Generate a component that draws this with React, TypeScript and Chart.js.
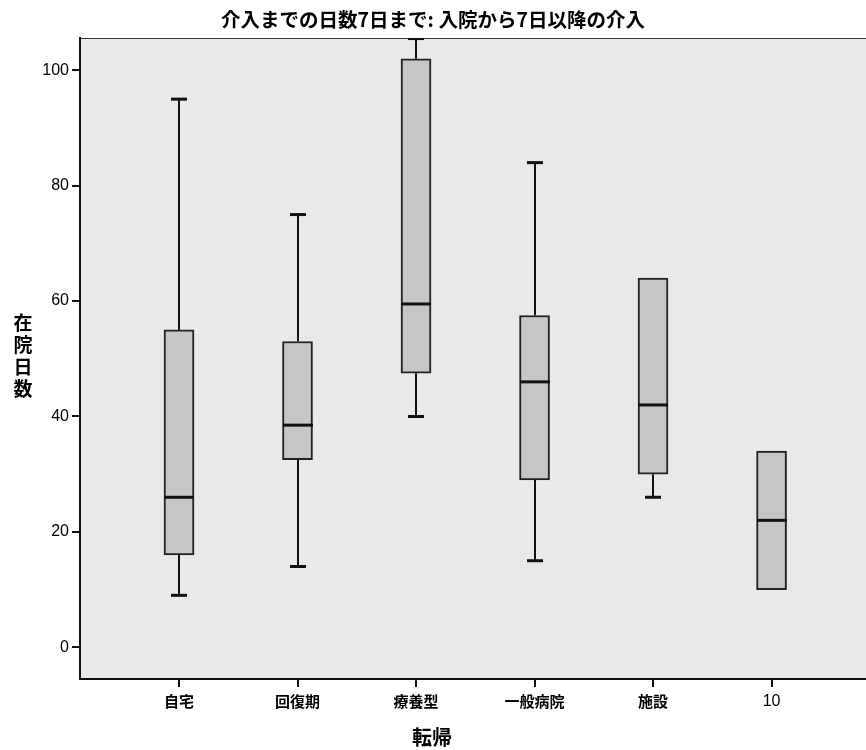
import React, { useEffect, useRef } from "react";
import { Chart, registerables } from "chart.js";

Chart.register(...registerables);

const categories = ["自宅", "回復期", "療養型", "一般病院", "施設", "10"];
const whiskerLow = [9, 14, 40, 15, 26, 10];
const q1 = [16, 32.5, 47.5, 29, 30, 10];
const median = [26, 38.5, 59.5, 46, 42, 22];
const q3 = [55, 53, 102, 57.5, 64, 34];
const whiskerHigh = [95, 75, 105.5, 84, 64, 34];
const yTicks = [0, 20, 40, 60, 80, 100];

const title = "介入までの日数7日まで: 入院から7日以降の介入";
const xTitle = "転帰";
const yTitle = "在院日数";

const BOX_W = 30;
const CAP_W = 16;

const boxPlugin = {
  id: "boxExtras",
  beforeDraw(chart: any) {
    const { ctx, chartArea: a } = chart;
    ctx.save();
    ctx.fillStyle = "#e9e9e9";
    ctx.fillRect(a.left, a.top, a.right - a.left, a.bottom - a.top);
    ctx.strokeStyle = "#333";
    ctx.lineWidth = 1;
    ctx.beginPath();
    ctx.moveTo(a.left, a.top + 0.5);
    ctx.lineTo(a.right, a.top + 0.5);
    ctx.stroke();
    ctx.restore();
  },
  beforeDatasetsDraw(chart: any) {
    const { ctx, chartArea: a, scales } = chart;
    const xs = scales.x;
    const ys = scales.y;
    ctx.save();
    ctx.beginPath();
    ctx.rect(a.left, a.top, a.right - a.left, a.bottom - a.top);
    ctx.clip();
    ctx.strokeStyle = "#111";
    categories.forEach((_, i) => {
      const cx = Math.round(xs.getPixelForValue(i + 1));
      const drawW = (from: number, to: number) => {
        if (Math.abs(from - to) < 1e-9) return;
        const y0 = ys.getPixelForValue(from);
        const y1 = ys.getPixelForValue(to);
        ctx.lineWidth = 2;
        ctx.beginPath();
        ctx.moveTo(cx, y0);
        ctx.lineTo(cx, y1);
        ctx.stroke();
        ctx.lineWidth = 3;
        ctx.beginPath();
        ctx.moveTo(cx - CAP_W / 2, y1);
        ctx.lineTo(cx + CAP_W / 2, y1);
        ctx.stroke();
      };
      drawW(q3[i], whiskerHigh[i]);
      drawW(q1[i], whiskerLow[i]);
    });
    ctx.restore();
  },
  afterDatasetsDraw(chart: any) {
    const { ctx, scales } = chart;
    const xs = scales.x;
    const ys = scales.y;
    ctx.save();
    ctx.strokeStyle = "#111";
    ctx.lineWidth = 3;
    categories.forEach((_, i) => {
      const cx = Math.round(xs.getPixelForValue(i + 1));
      const y = ys.getPixelForValue(median[i]);
      ctx.beginPath();
      ctx.moveTo(cx - BOX_W / 2, y);
      ctx.lineTo(cx + BOX_W / 2, y);
      ctx.stroke();
    });
    ctx.restore();
  },
  afterDraw(chart: any) {
    const { ctx } = chart;
    ctx.save();
    ctx.fillStyle = "#000";
    ctx.textAlign = "center";
    ctx.textBaseline = "middle";
    ctx.font = 'bold 19.5px "Noto Sans CJK JP"';
    ctx.fillText(title, 433, 20);
    ctx.font = 'bold 20px "Noto Sans CJK JP"';
    ctx.fillText(xTitle, 432, 737);
    ctx.font = 'bold 19px "Noto Sans CJK JP"';
    const chars = Array.from(yTitle);
    chars.forEach((c, k) => {
      ctx.fillText(c, 23, 323 + k * 22);
    });
    ctx.restore();
  },
};

export default function App() {
  const ref = useRef<HTMLCanvasElement | null>(null);
  useEffect(() => {
    if (!ref.current) return;
    const chart = new Chart(ref.current, {
      type: "bar",
      data: {
        datasets: [
          {
            data: categories.map((_, i) => ({ x: i + 1, y: [q1[i], q3[i]] })) as any,
            backgroundColor: "#c6c6c6",
            borderColor: "#222",
            borderWidth: 2,
            borderSkipped: false,
            barThickness: BOX_W,
          },
        ],
      },
      options: {
        animation: false,
        responsive: true,
        maintainAspectRatio: false,
        layout: { padding: { top: 38, left: 0, right: 0, bottom: 0 } },
        plugins: { legend: { display: false }, tooltip: { enabled: false }, title: { display: false } },
        scales: {
          x: {
            type: "linear",
            offset: false,
            min: 0.1646,
            max: 6.797,
            afterBuildTicks: (s: any) => {
              s.ticks = categories.map((_, i) => ({ value: i + 1 }));
            },
            afterFit: (s: any) => {
              s.height = 71;
            },
            ticks: {
              autoSkip: false,
              maxRotation: 0,
              padding: 5,
              color: "#000",
              font: (c: any) =>
                c.tick && Math.round(c.tick.value) === 6
                  ? { family: '"Liberation Sans", Arial', size: 16, weight: "normal" }
                  : { family: '"Noto Sans CJK JP"', size: 15, weight: "bold" },
              callback: (v: any) => categories[Math.round(Number(v)) - 1] ?? "",
            },
            grid: { offset: false, drawOnChartArea: false, tickLength: 8, color: "#111", lineWidth: 2 },
            border: { display: true, color: "#111", width: 2 },
          },
          y: {
            type: "linear",
            min: -5.5,
            max: 105.6,
            afterBuildTicks: (s: any) => {
              s.ticks = yTicks.map((v) => ({ value: v }));
            },
            afterFit: (s: any) => {
              s.width = 80;
            },
            ticks: {
              padding: 3,
              color: "#000",
              font: { family: '"Liberation Sans", Arial', size: 16 },
            },
            grid: { drawOnChartArea: false, tickLength: 8, color: "#111", lineWidth: 2 },
            border: { display: true, color: "#111", width: 2 },
          },
        },
      },
      plugins: [boxPlugin],
    } as any);
    return () => chart.destroy();
  }, []);
  return (
    <div style={{ position: "fixed", left: 0, top: 0, width: 866, height: 750, background: "#fff" }}>
      <canvas ref={ref} />
    </div>
  );
}
